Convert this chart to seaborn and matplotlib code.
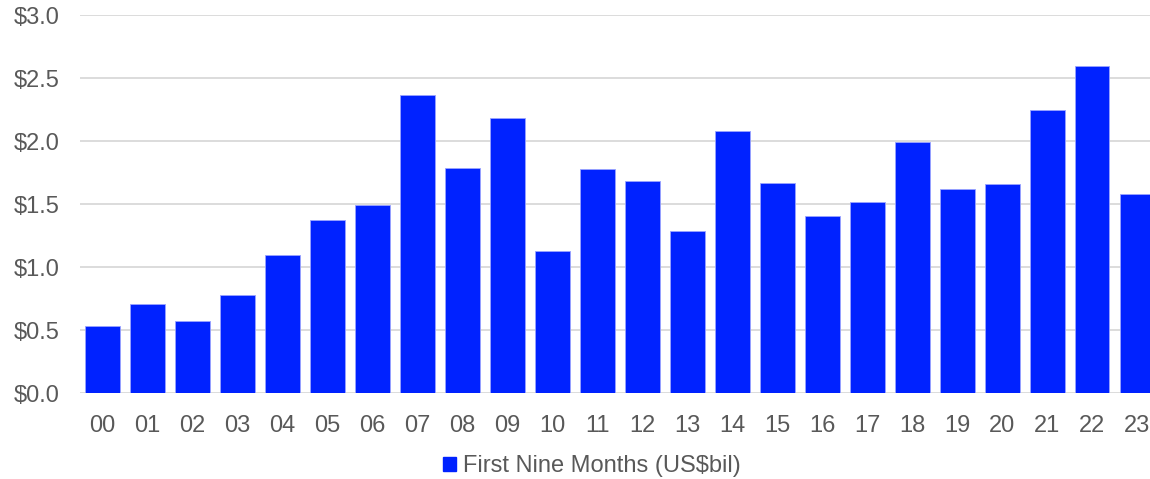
import matplotlib
matplotlib.use('Agg')
import matplotlib.pyplot as plt
import pandas as pd
import seaborn as sns
from matplotlib.patches import Patch

years = ['00', '01', '02', '03', '04', '05', '06', '07', '08', '09', '10', '11',
         '12', '13', '14', '15', '16', '17', '18', '19', '20', '21', '22', '23']
values = [0.53, 0.71, 0.57, 0.78, 1.095, 1.37, 1.49, 2.365, 1.786, 2.18, 1.127, 1.78,
          1.68, 1.286, 2.08, 1.667, 1.405, 1.516, 1.99, 1.62, 1.66, 2.25, 2.595, 1.58]
yticks = [0.0, 0.5, 1.0, 1.5, 2.0, 2.5, 3.0]
series_name = 'First Nine Months (US$bil)'

bar_col = '#0022FF'
txt_col = '#595959'

sns.set_style('white')
plt.rcParams['font.family'] = ['Liberation Sans', 'DejaVu Sans']

df = pd.DataFrame({'year': years, 'value': values})

fig = plt.figure(figsize=(11.5, 4.79), dpi=100)
ax = fig.add_axes([0.0696, 0.1795, 0.939, 0.789])
sns.barplot(data=df, x='year', y='value', color=bar_col, saturation=1, width=0.76,
            edgecolor='#9aa4ff', linewidth=0.6, ax=ax, zorder=3)

ax.set_xlim(-0.5, len(years) - 0.5)
ax.set_ylim(0, 3.0)
ax.set_yticks(yticks)
ax.set_yticklabels([f'${v:.1f}' for v in yticks])
for v in yticks:
    ax.axhline(v, color='#d9d9d9', linewidth=1.3, zorder=1)
ax.set_xlabel('')
ax.set_ylabel('')
for s in ax.spines.values():
    s.set_visible(False)
ax.tick_params(axis='both', length=0, labelsize=17, colors=txt_col)
ax.tick_params(axis='x', pad=16)
ax.tick_params(axis='y', pad=15)

handle = Patch(facecolor=bar_col, edgecolor=bar_col)
fig.legend([handle], [series_name], loc='center', bbox_to_anchor=(0.515, 0.027),
           frameon=False, fontsize=17, labelcolor=txt_col, handlelength=0.55,
           handleheight=0.55, handletextpad=0.3)

fig.savefig('out.png', dpi=100)
